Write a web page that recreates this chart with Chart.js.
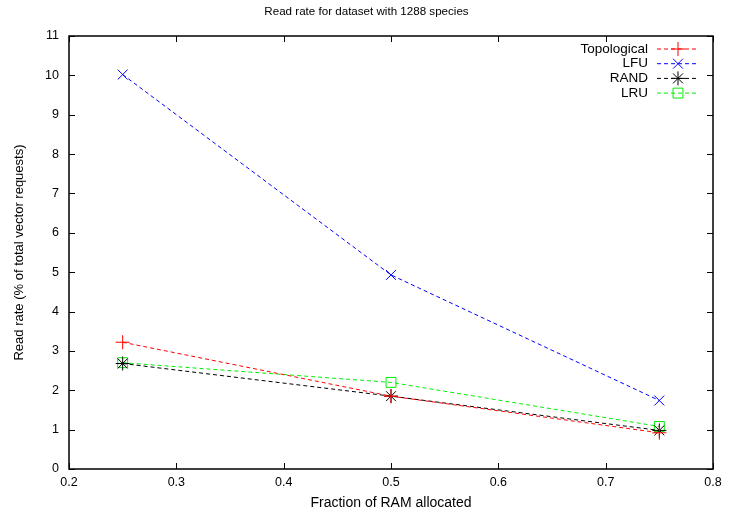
<!DOCTYPE html>
<html>
<head>
<meta charset="utf-8">
<script src="https://cdn.jsdelivr.net/npm/chart.js@4.4.0/dist/chart.umd.min.js"></script>
<style>
  html, body { margin: 0; padding: 0; background: #fff; }
  #wrap { width: 729px; height: 515px; }
</style>
</head>
<body>
<div id="wrap"><canvas id="myChart" width="729" height="515"></canvas></div>
<script>
// data
var fractions = [0.25, 0.5, 0.75];
var topological = [3.22, 1.85, 0.92];
var lfu = [10.02, 4.93, 1.74];
var rand = [2.68, 1.85, 0.98];
var lru = [2.7, 2.2, 1.08];
var xTicks = [0.2, 0.3, 0.4, 0.5, 0.6, 0.7, 0.8];
var yTicks = [0, 1, 2, 3, 4, 5, 6, 7, 8, 9, 10, 11];
var chartTitle = 'Read rate for dataset with 1288 species';

var FONT = 'Liberation Sans, Arial, Helvetica, sans-serif';

function pts(values) {
    return values.map(function (v, i) { return { x: fractions[i], y: v }; });
}

function series(label, values, color, style) {
    return {
        label: label,
        data: pts(values),
        borderColor: color,
        backgroundColor: 'rgba(0,0,0,0)',
        borderWidth: 1,
        borderDash: [4, 3],
        pointStyle: style,
        pointRadius: 7,
        pointBorderColor: color,
        pointBorderWidth: 1,
        pointBackgroundColor: 'rgba(0,0,0,0)',
        tension: 0
    };
}

// title, frame, inward ticks on all sides, legend inside top right
var framePlugin = {
    id: 'frame',
    afterDraw: function (chart) {
        var ctx = chart.ctx;
        var a = chart.chartArea;
        var xs = chart.scales.x, ys = chart.scales.y;
        ctx.save();

        ctx.fillStyle = '#000';
        ctx.font = '11.6px ' + FONT;
        ctx.textAlign = 'center';
        ctx.textBaseline = 'middle';
        ctx.fillText(chartTitle, chart.width / 2 + 2, 12);

        ctx.strokeStyle = '#000';
        ctx.lineWidth = 1;
        ctx.setLineDash([]);
        ctx.beginPath();
        xTicks.forEach(function (t) {
            var px = Math.round(xs.getPixelForValue(t)) + 0.5;
            ctx.moveTo(px, a.bottom); ctx.lineTo(px, a.bottom - 6);
            ctx.moveTo(px, a.top); ctx.lineTo(px, a.top + 6);
        });
        yTicks.forEach(function (t) {
            var py = Math.round(ys.getPixelForValue(t)) + 0.5;
            ctx.moveTo(a.left, py); ctx.lineTo(a.left + 6, py);
            ctx.moveTo(a.right, py); ctx.lineTo(a.right - 6, py);
        });
        ctx.stroke();
        ctx.lineWidth = 1.5;
        ctx.strokeRect(a.left, a.top, a.right - a.left, a.bottom - a.top);

        // legend
        ctx.font = '13.5px ' + FONT;
        ctx.textAlign = 'right';
        chart.data.datasets.forEach(function (ds, i) {
            var y = 49 + i * 14.7;
            ctx.fillStyle = '#000';
            ctx.fillText(ds.label, 648, y);
            ctx.strokeStyle = ds.borderColor;
            ctx.lineWidth = 1;
            ctx.setLineDash([4, 3]);
            ctx.beginPath();
            ctx.moveTo(657, y); ctx.lineTo(698, y);
            ctx.stroke();
            ctx.setLineDash([]);
            ctx.fillStyle = 'rgba(0,0,0,0)';
            Chart.helpers.drawPoint(ctx, {
                pointStyle: ds.pointStyle,
                radius: 7,
                borderWidth: 1
            }, 678, y);
        });
        ctx.restore();
    }
};

var ctx = document.getElementById('myChart').getContext('2d');
var chart = new Chart(ctx, {
    type: 'line',
    data: {
        datasets: [
            series('Topological', topological, '#ff0000', 'cross'),
            series('LFU', lfu, '#0000ff', 'crossRot'),
            series('RAND', rand, '#000000', 'star'),
            series('LRU', lru, '#00ee00', 'rect')
        ]
    },
    plugins: [framePlugin],
    options: {
        responsive: false,
        animation: false,
        events: [],
        layout: { padding: { left: 0, right: 16, top: 36, bottom: 0 } },
        plugins: {
            legend: { display: false },
            tooltip: { enabled: false },
            title: { display: false }
        },
        scales: {
            x: {
                type: 'linear',
                min: 0.2,
                max: 0.8,
                afterBuildTicks: function (scale) {
                    scale.ticks = xTicks.map(function (v) { return { value: v }; });
                },
                afterFit: function (scale) { scale.height = 46; },
                grid: { display: false, drawTicks: false },
                border: { display: false },
                ticks: {
                    color: '#000',
                    padding: 6,
                    maxRotation: 0,
                    font: { family: FONT, size: 12.5 },
                    callback: function (v) { return v.toFixed(1); }
                },
                title: {
                    display: true,
                    text: 'Fraction of RAM allocated',
                    color: '#000',
                    font: { family: FONT, size: 14 },
                    padding: { top: 4, bottom: 3 }
                }
            },
            y: {
                min: 0,
                max: 11,
                afterBuildTicks: function (scale) {
                    scale.ticks = yTicks.map(function (v) { return { value: v }; });
                },
                afterFit: function (scale) { scale.width = 69; },
                grid: { display: false, drawTicks: false },
                border: { display: false },
                ticks: {
                    color: '#000',
                    padding: 10,
                    font: { family: FONT, size: 12.5 }
                },
                title: {
                    display: true,
                    text: 'Read rate (% of total vector requests)',
                    color: '#000',
                    font: { family: FONT, size: 13 },
                    padding: { top: 12, bottom: 4 }
                }
            }
        }
    }
});
</script>
</body>
</html>
